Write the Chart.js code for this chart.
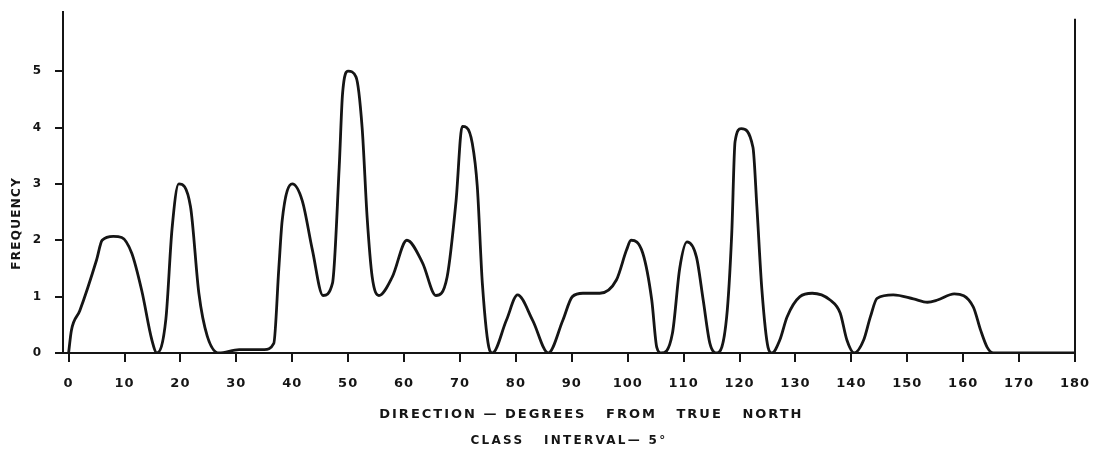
<!DOCTYPE html>
<html>
<head>
<meta charset="utf-8">
<title>Frequency - direction from true north</title>
<script src="https://cdn.jsdelivr.net/npm/chart.js@4.4.1/dist/chart.umd.min.js"></script>
<style>
    html, body { margin: 0; padding: 0; background: #ffffff; }
    #contenedor { width: 1093px; height: 457px; position: relative; }
</style>
</head>
<body>
<div id="contenedor"><canvas id="chartFrecuencia"></canvas></div>
<script>
// ===== DATOS =====
// direccion (grados desde el norte verdadero)
const direcciones = [
    0, 0.5, 2, 5, 6, 8, 9.5, 11.3, 13.1, 14.9, 15.8,
    17.4, 18.5, 19.7, 21.8, 23.3, 24.8, 26.9,
    30.5, 35, 36.7, 37.6, 38.2, 40, 41.8, 43.6, 45.5,
    47.2, 48.4, 49, 50, 51.4, 52.5, 53.4, 54.3, 55.5,
    57.9, 60.5, 63.3, 65.7, 67.7, 69.3, 70.4, 71.2, 72.2, 73.1, 74, 75.3, 75.8,
    78.3, 80.3, 83, 85.8,
    88.4, 90.1, 92, 95, 98, 99.8, 100.6, 102.7, 104.3, 105.2, 106,
    108, 109.3, 110.6, 112.3, 113.5, 114.7, 116,
    117.7, 118.6, 119.2, 120.3, 122.4, 123.1, 124, 125.1, 125.8,
    127.2, 128.5, 130.8, 133, 136.2, 138, 139.2, 140.5,
    142.2, 143.4, 144.6, 147.5, 151.1, 153.6, 155.4, 158.4, 161.8, 163.1, 164.3, 165.4,
    180
];
// frecuencia
const frecuencias = [
    0, 0.4, 0.75, 1.65, 2.0, 2.07, 2.05, 1.77, 1.1, 0.23, 0,
    0.6, 2.2, 3.0, 2.6, 1.06, 0.3, 0,
    0.06, 0.06, 0.17, 1.5, 2.35, 3.0, 2.7, 1.83, 1.02,
    1.24, 3.3, 4.6, 5.0, 4.9, 4.0, 2.4, 1.35, 1.02,
    1.35, 2.0, 1.6, 1.02, 1.35, 2.7, 4.02, 4.0, 3.72, 2.95, 1.24, 0.05, 0,
    0.58, 1.03, 0.58, 0,
    0.58, 1.0, 1.06, 1.06, 1.3, 1.83, 2.0, 1.77, 0.94, 0.1, 0,
    0.35, 1.5, 1.97, 1.7, 0.94, 0.17, 0,
    0.64, 2.1, 3.75, 3.98, 3.65, 2.6, 1.12, 0.1, 0,
    0.23, 0.64, 1.0, 1.06, 0.94, 0.71, 0.23, 0,
    0.23, 0.64, 0.97, 1.03, 0.96, 0.9, 0.94, 1.05, 0.82, 0.41, 0.1, 0,
    0
];
const ticksX = [0, 10, 20, 30, 40, 50, 60, 70, 80, 90, 100, 110, 120, 130, 140, 150, 160, 170, 180];
const ticksY = [0, 1, 2, 3, 4, 5];
const tituloX1 = 'DIRECTION \u2014 DEGREES   FROM   TRUE   NORTH';
const tituloX2 = 'CLASS   INTERVAL\u2014 5\u00B0';
const tituloY = 'FREQUENCY';

const TINTA = '#151515';
const FUENTE = '"DejaVu Sans", sans-serif';

let chartFrecuencia;

// Marco derecho y textos de los ejes
const pluginTextos = {
    id: 'textos',
    beforeDraw(chart) {
        chart.ctx.letterSpacing = '1px';
    },
    afterDraw(chart) {
        const ctx = chart.ctx;
        const x = chart.scales.x;
        const y = chart.scales.y;
        const area = chart.chartArea;

        ctx.save();
        // linea vertical derecha (180 grados)
        ctx.strokeStyle = TINTA;
        ctx.lineWidth = 2;
        ctx.beginPath();
        ctx.moveTo(x.getPixelForValue(180), y.getPixelForValue(5.93));
        ctx.lineTo(x.getPixelForValue(180), area.bottom);
        ctx.stroke();

        ctx.fillStyle = TINTA;
        ctx.font = 'bold 13px ' + FUENTE;
        ctx.letterSpacing = '2px';
        ctx.textAlign = 'center';
        ctx.textBaseline = 'middle';
        ctx.fillText(tituloX1, x.getPixelForValue(93.5), area.bottom + 62);
        ctx.font = 'bold 12px ' + FUENTE;
        ctx.letterSpacing = '2.3px';
        ctx.fillText(tituloX2, x.getPixelForValue(89.5), area.bottom + 88);

        // titulo vertical
        ctx.font = 'bold 12px ' + FUENTE;
        ctx.letterSpacing = '1.3px';
        ctx.translate(17, y.getPixelForValue(2.3));
        ctx.rotate(-Math.PI / 2);
        ctx.fillText(tituloY, 0, 0);
        ctx.restore();
    }
};

document.addEventListener('DOMContentLoaded', function() {
    inicializarGrafico();
});

function inicializarGrafico() {
    const ctx = document.getElementById('chartFrecuencia');
    const puntos = direcciones.map((d, i) => ({ x: d, y: frecuencias[i] }));

    chartFrecuencia = new Chart(ctx, {
        type: 'line',
        data: {
            datasets: [{
                data: puntos,
                borderColor: TINTA,
                borderWidth: 2.8,
                pointRadius: 0,
                fill: false,
                cubicInterpolationMode: 'monotone'
            }]
        },
        options: {
            responsive: true,
            maintainAspectRatio: false,
            animation: false,
            layout: { autoPadding: false, padding: { top: 12, right: 18, left: 0, bottom: 0 } },
            plugins: {
                legend: { display: false },
                tooltip: { enabled: false }
            },
            scales: {
                x: {
                    type: 'linear',
                    min: -1,
                    max: 180,
                    afterBuildTicks: function(scale) {
                        scale.ticks = ticksX.map(v => ({ value: v }));
                    },
                    afterFit: function(scale) {
                        scale.height = 104;
                        scale.paddingLeft = 0;
                        scale.paddingRight = 0;
                    },
                    border: { display: true, color: TINTA, width: 2 },
                    grid: {
                        drawOnChartArea: false,
                        drawTicks: true,
                        tickLength: 9,
                        color: TINTA,
                        lineWidth: 2
                    },
                    ticks: {
                        color: TINTA,
                        padding: 14,
                        maxRotation: 0,
                        autoSkip: false,
                        font: { family: FUENTE, size: 13, weight: 'bold' }
                    }
                },
                y: {
                    min: 0,
                    max: 6.05,
                    afterBuildTicks: function(scale) {
                        scale.ticks = ticksY.map(v => ({ value: v }));
                    },
                    afterFit: function(scale) {
                        scale.width = 63;
                        scale.paddingTop = 0;
                        scale.paddingBottom = 0;
                    },
                    border: { display: true, color: TINTA, width: 2 },
                    grid: {
                        drawOnChartArea: false,
                        drawTicks: true,
                        tickLength: 8,
                        color: TINTA,
                        lineWidth: 2
                    },
                    ticks: {
                        color: TINTA,
                        padding: 13,
                        font: { family: FUENTE, size: 12, weight: 'bold' }
                    }
                }
            }
        },
        plugins: [pluginTextos]
    });
}
</script>
</body>
</html>
